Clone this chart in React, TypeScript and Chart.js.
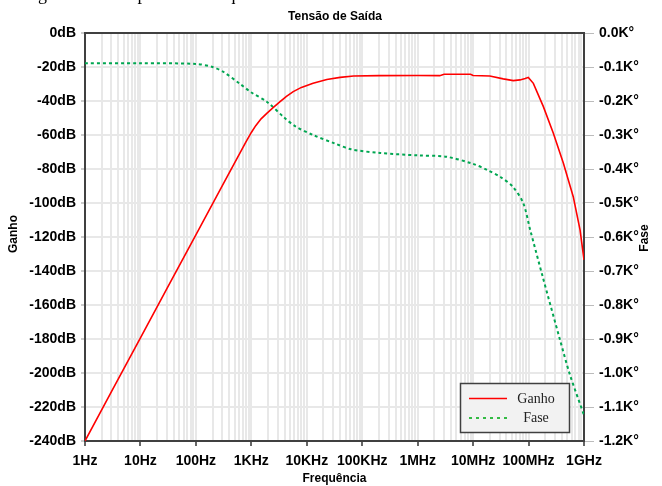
import React, { useEffect, useRef } from 'react';
import { Chart, registerables } from 'chart.js';

Chart.register(...registerables);

const xTickLabels = ['1Hz', '10Hz', '100Hz', '1KHz', '10KHz', '100KHz', '1MHz', '10MHz', '100MHz', '1GHz'];

const gainFreqHz = [1, 3, 10, 30, 100, 300, 800, 1000, 1200, 1500, 1900, 2500, 3300, 4300, 5700, 8000, 13000, 23000, 40000, 70000, 200000, 1e6, 2.5e6, 3e6, 9e6, 1e7, 2e7, 3.5e7, 5.3e7, 7e7, 8.7e7, 9.9e7, 1.22e8, 1.85e8, 2.8e8, 4.25e8, 6.4e8, 8.5e8, 1e9];
const gainDb = [-240, -211, -179.4, -150.4, -118.8, -89.8, -64.1, -58.5, -54.5, -50.5, -47.3, -43.8, -40.4, -37.3, -34.5, -32.0, -29.6, -27.3, -26.1, -25.3, -25.1, -25.0, -25.1, -24.3, -24.3, -25.0, -25.3, -27.0, -28.0, -27.6, -26.8, -26.1, -29.6, -43.3, -59.0, -76.6, -96.3, -115.9, -133.5];

const phaseFreqHz = [1, 10, 100, 200, 310, 630, 1000, 1900, 4000, 6300, 13000, 32000, 63000, 210000, 1e6, 3.3e6, 1e7, 1.8e7, 3.2e7, 5.2e7, 8e7, 1.07e8, 1.8e8, 3.7e8, 5.6e8, 1e9];
const phaseKdeg = [-0.089, -0.089, -0.091, -0.100, -0.114, -0.150, -0.175, -0.202, -0.250, -0.275, -0.300, -0.325, -0.342, -0.353, -0.360, -0.364, -0.385, -0.403, -0.425, -0.452, -0.500, -0.579, -0.717, -0.903, -1.006, -1.124];

const SANS = '"Liberation Sans", Arial, Helvetica, sans-serif';
const SERIF = '"Liberation Serif", "Times New Roman", serif';
const GRID = '#e8e8e8';
const RED = '#ff0000';
const GREEN = '#00a651';

const decorPlugin = {
  id: 'decor',
  beforeDatasetsDraw(chart: any) {
    const { ctx, chartArea: a } = chart;
    ctx.save();
    ctx.strokeStyle = '#404040';
    ctx.lineWidth = 2;
    ctx.strokeRect(a.left, a.top, a.right - a.left, a.bottom - a.top);
    ctx.restore();
  },
  afterDraw(chart: any) {
    const { ctx, chartArea: a } = chart;
    ctx.save();
    // cut-off caption at top
    ctx.fillStyle = '#000';
    ctx.font = '18px ' + SERIF;
    ctx.textAlign = 'left';
    ctx.textBaseline = 'alphabetic';
    ctx.fillText('Figura 12 – Resposta em frequência do circuito', 23, -0.5);
    // title
    ctx.font = 'bold 12px ' + SANS;
    ctx.textAlign = 'center';
    ctx.textBaseline = 'middle';
    ctx.fillText('Tensão de Saída', 335, 17);
    // x title
    ctx.fillText('Frequência', (a.left + a.right) / 2, 479);
    // y titles
    const cy = (a.top + a.bottom) / 2;
    ctx.save();
    ctx.translate(14, cy - 3);
    ctx.rotate(-Math.PI / 2);
    ctx.fillText('Ganho', 0, 0);
    ctx.restore();
    ctx.save();
    ctx.translate(645, cy + 1);
    ctx.rotate(-Math.PI / 2);
    ctx.fillText('Fase', 0, 0);
    ctx.restore();
    // legend
    const bx = 460.5, by = 383.5, bw = 109, bh = 49;
    ctx.fillStyle = '#f2f2f2';
    ctx.fillRect(bx, by, bw, bh);
    ctx.strokeStyle = '#404040';
    ctx.lineWidth = 1.5;
    ctx.strokeRect(bx, by, bw, bh);
    ctx.strokeStyle = RED;
    ctx.lineWidth = 1.5;
    ctx.beginPath();
    ctx.moveTo(469, 398.5);
    ctx.lineTo(507, 398.5);
    ctx.stroke();
    ctx.strokeStyle = '#33bb44';
    ctx.lineWidth = 2;
    ctx.setLineDash([3, 4]);
    ctx.beginPath();
    ctx.moveTo(469, 418);
    ctx.lineTo(507, 418);
    ctx.stroke();
    ctx.setLineDash([]);
    ctx.fillStyle = '#222';
    ctx.font = '14px ' + SERIF;
    ctx.textAlign = 'center';
    ctx.fillText('Ganho', 536, 399);
    ctx.fillText('Fase', 536, 418);
    ctx.restore();
  },
};

function isDecade(v: number) {
  const l = Math.log10(v);
  return Math.abs(l - Math.round(l)) < 1e-9;
}

export default function App() {
  const ref = useRef<HTMLCanvasElement>(null);
  useEffect(() => {
    if (!ref.current) return;
    const chart = new Chart(ref.current, {
      type: 'line',
      data: {
        datasets: [
          {
            label: 'Ganho',
            data: gainFreqHz.map((f, i) => ({ x: f, y: gainDb[i] })),
            borderColor: RED,
            borderWidth: 1.6,
            pointRadius: 0,
            tension: 0,
            yAxisID: 'y',
          },
          {
            label: 'Fase',
            data: phaseFreqHz.map((f, i) => ({ x: f, y: phaseKdeg[i] })),
            borderColor: GREEN,
            borderWidth: 2,
            borderDash: [3, 3],
            pointRadius: 0,
            tension: 0.3,
            yAxisID: 'y1',
          },
        ],
      },
      options: {
        responsive: false,
        animation: false,
        devicePixelRatio: 1,
        layout: { padding: { top: 33, left: 0, right: 0, bottom: 0 } },
        plugins: {
          legend: { display: false },
          title: { display: false },
          tooltip: { enabled: false },
        },
        scales: {
          x: {
            type: 'logarithmic',
            min: 1,
            max: 1e9,
            afterBuildTicks: (s: any) => {
              const t: any[] = [];
              for (let n = 0; n < 9; n++) for (let k = 1; k <= 9; k++) t.push({ value: k * Math.pow(10, n) });
              t.push({ value: 1e9 });
              s.ticks = t;
            },
            afterFit: (s: any) => { s.height = 45; },
            ticks: {
              autoSkip: false,
              maxRotation: 0,
              minRotation: 0,
              padding: 7,
              color: '#000',
              font: { family: SANS, size: 14, weight: 'bold' },
              callback: (v: any) => (isDecade(Number(v)) ? xTickLabels[Math.round(Math.log10(Number(v)))] : ''),
            },
            grid: {
              color: GRID,
              lineWidth: 2,
              tickLength: 5,
              tickColor: (c: any) => (c.tick && isDecade(c.tick.value) ? '#333' : 'rgba(0,0,0,0)'),
              tickWidth: 1.5,
            },
            border: { display: false },
          },
          y: {
            position: 'left',
            min: -240,
            max: 0,
            afterFit: (s: any) => { s.width = 85; },
            ticks: {
              stepSize: 20,
              padding: 5,
              color: '#000',
              font: { family: SANS, size: 14, weight: 'bold' },
              callback: (v: any) => `${v}dB`,
            },
            grid: { color: GRID, lineWidth: 2, tickLength: 4, tickColor: '#999', tickWidth: 1 },
            border: { display: false },
          },
          y1: {
            position: 'right',
            min: -1.2,
            max: 0,
            afterFit: (s: any) => { s.width = 78; },
            ticks: {
              stepSize: 0.1,
              padding: 5,
              color: '#000',
              font: { family: SANS, size: 14, weight: 'bold' },
              callback: (v: any) => `${Number(v).toFixed(1)}K°`,
            },
            grid: { drawOnChartArea: false, tickLength: 10, tickColor: '#bbb', tickWidth: 1 },
            border: { display: false },
          },
        },
      } as any,
      plugins: [decorPlugin],
    });
    return () => chart.destroy();
  }, []);
  return (
    <div style={{ position: 'fixed', left: 0, top: 0, width: 662, height: 486, background: '#fff' }}>
      <canvas ref={ref} width={662} height={486} style={{ display: 'block' }} />
    </div>
  );
}
